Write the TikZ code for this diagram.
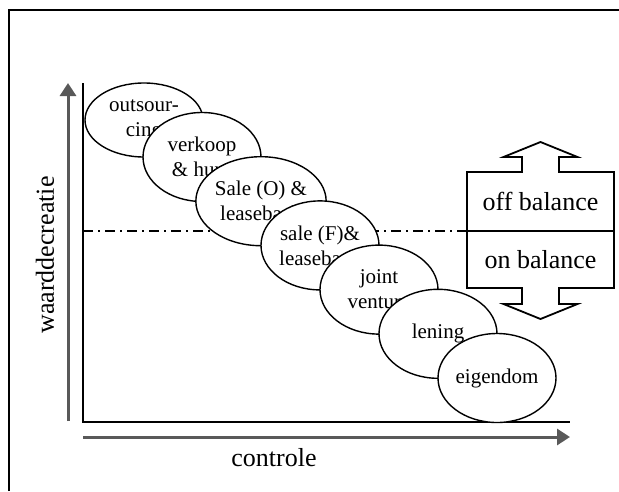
\documentclass[tikz,border=0pt]{standalone}
\usepackage{fontspec}
\setmainfont{Liberation Serif}
\usetikzlibrary{arrows.meta,positioning,shapes.geometric}
\definecolor{arrowgray}{HTML}{595959}

\begin{document}
\begin{tikzpicture}[
			x=1pt, y=-1pt,
			ell/.style={ellipse, draw, line width=1.4pt, fill=white, minimum width=118pt, minimum height=89pt, inner sep=0pt, align=center, font=\fontsize{21}{25}\selectfont},
			half/.style={minimum width=147pt, inner sep=0pt, outer sep=0pt, font=\fontsize{26}{30}\selectfont},
			axis/.style={line width=2pt},
			grayarrow/.style={line width=3pt, draw=arrowgray, -{Triangle[length=13pt,width=16pt]}},
			big/.style={font=\fontsize{26}{30}\selectfont},
		]
			\useasboundingbox (0,0) rectangle (619,491);
			\draw[line width=2pt] (9,491) -- (9,10) -- (619,10);

			% axes
			\coordinate (top) at (83,83);
			\coordinate (origin) at (83,422);
			\coordinate (right) at (570,422);
			\draw[axis] (top) -- (origin) -- (right);
			\coordinate (ybottom) at (68,421);
			\coordinate (ytop) at (68,83);
			\coordinate (xleft) at (83,437);
			\coordinate (xright) at (570,437);
			\draw[grayarrow] (ybottom) -- (ytop);
			\draw[grayarrow] (xleft) -- (xright);
			\node[big] (controle) at (274,458) {controle};
			\node[big, rotate=90] (waarde) at (45,255) {waarddecreatie};

			% balance box
			\node[half, minimum height=59pt] (offbal) at (540.5,201.5) {off balance};
			\node[half, minimum height=57pt, below=0pt of offbal] (onbal) {on balance};
			\draw[line width=1.8pt] (offbal.north west) -- ([xshift=-18.5pt]offbal.north) -- ++(0,-15) -- ++(-18.5,0) -- ++(37,-15) -- ++(37,15) -- ++(-18.5,0) -- ++(0,15)
				-- (offbal.north east) -- (onbal.south east)
				-- ([xshift=18.5pt]onbal.south) -- ++(0,16) -- ++(18.5,0) -- ++(-37,15) -- ++(-37,-15) -- ++(18.5,0) -- ++(0,-16)
				-- (onbal.south west) -- cycle;
			\draw[line width=1.8pt] (offbal.south west) -- (offbal.south east);

			\coordinate (dashstart) at (83,231);
			\draw[line width=1.2pt, dash pattern=on 10pt off 5pt on 2pt off 5pt] (dashstart) -- (offbal.south west);

			% ellipses
			\node[ell, minimum height=74pt] (outsourcing) at (144,120) {outsour-\\cing};
			\node[ell, on grid, below right=37pt and 58pt of outsourcing] (verkoop) {verkoop\\\& huur};
			\node[ell, on grid, below right=44.2pt and 59pt of verkoop] (saleo) {Sale (O) \&\\leaseback};
			\node[ell, on grid, below right=44.2pt and 59pt of saleo] (salef) {sale (F)\&\\leaseback};
			\node[ell, on grid, below right=44.2pt and 59pt of salef] (joint) {joint\\venture};
			\node[ell, on grid, below right=44.2pt and 59pt of joint] (lening) {lening};
			\node[ell, on grid, below right=44.2pt and 59pt of lening] (eigendom) {eigendom};
		\end{tikzpicture}
\end{document}
